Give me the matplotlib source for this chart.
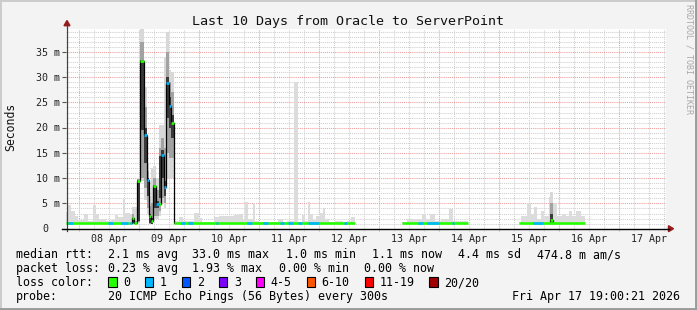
import matplotlib
matplotlib.use('Agg')
import matplotlib.pyplot as plt
from matplotlib.lines import Line2D
from matplotlib.patches import Polygon, Rectangle
import numpy as np

plt.rcParams['font.family'] = ['DejaVu Sans Mono']

# ---- data (time in hours since 07 Apr 19:00, rtt in ms) ----
title = 'Last 10 Days from Oracle to ServerPoint'
day_labels = ['08 Apr', '09 Apr', '10 Apr', '11 Apr', '12 Apr',
              '13 Apr', '14 Apr', '15 Apr', '16 Apr', '17 Apr']

# blocks where the median sits at its normal level
data_start = [0.0, 44.0, 134.4, 181.2]
data_end = [25.6, 115.6, 160.8, 207.6]
median_base = 1.1

# intervals with 1 lost ping (the rest is 0 loss)
loss1_start = [0.8, 16.8, 22.0, 46.0, 48.8, 60.0, 72.4, 78.8, 85.6, 88.8,
               92.8, 96.8, 111.2, 140.8, 144.4, 154.4, 186.8]
loss1_end = [2.8, 18.8, 24.8, 47.6, 50.8, 60.8, 74.4, 80.8, 87.2, 90.8,
             94.4, 101.2, 112.4, 142.8, 149.2, 155.2, 190.8]

# light smoke (max rtt) in the quiet periods
smoke1_edges = [0.0, 0.8, 2.0, 3.6, 4.8, 7.2, 8.8, 10.8, 12.0, 13.2, 16.0,
                18.0, 19.6, 20.8, 22.8, 23.6, 25.6]
smoke1_top = [3.3, 4.6, 3.6, 2.5, 1.8, 3.0, 1.6, 4.6, 3.0, 2.0, 1.5, 1.8,
              2.8, 2.4, 5.8, 3.2]
smoke2_edges = [44.0, 45.2, 46.8, 48.8, 51.2, 53.2, 54.4, 59.2, 61.2, 64.0,
                67.2, 69.2, 70.8, 71.6, 72.8, 74.8, 75.6, 77.2, 79.2, 84.8,
                86.8, 88.4, 91.2, 92.8, 94.4, 95.6, 96.8, 97.6, 98.8, 100.0,
                101.6, 102.8, 103.6, 105.2, 107.6, 110.8, 112.4, 114.0, 115.6]
smoke2_top = [1.5, 2.4, 1.5, 1.6, 3.2, 2.2, 1.4, 2.3, 2.5, 2.5,
              2.8, 3.0, 1.8, 5.3, 2.0, 5.0, 1.6, 1.4, 1.3, 2.0,
              1.3, 1.6, 29.0, 1.4, 2.8, 1.6, 5.2, 3.0, 1.8, 2.5,
              3.2, 4.0, 2.0, 1.3, 1.5, 1.3, 1.5, 2.4]
smoke3_edges = [134.4, 136.4, 140.4, 142.4, 144.0, 145.6, 147.6, 150.0,
                153.2, 154.8, 160.8]
smoke3_top = [1.3, 2.0, 2.0, 3.0, 2.0, 3.0, 1.5, 2.0, 3.9, 1.5]
smoke4_edges = [181.2, 182.0, 184.4, 186.0, 187.2, 188.4, 190.0, 191.2,
                193.2, 194.8, 196.4, 198.4, 200.0, 201.2, 202.4, 204.0,
                206.0, 207.6]
smoke4_top = [1.3, 2.5, 5.0, 3.0, 4.3, 2.0, 3.6, 2.5, 6.3, 5.0, 2.5, 3.0,
              2.5, 3.6, 2.5, 3.5, 2.5]

# outage on 08/09 Apr
spike_edges = [25.6, 26.4, 27.2, 28.4, 29.4, 31.2, 32.2, 33.2, 34.0, 34.8,
               36.0, 37.2, 38.0, 39.2, 40.0, 41.2, 42.0, 43.0, 44.0]
spike_med = [1.1, 2.2, 1.1, 9.4, 33.3, 18.6, 9.6, 2.6, 1.6, 8.4, 4.8, 4.8,
             14.5, 8.3, 28.8, 24.3, 21.0, 1.1]
spike_loss = [1, 0, 0, 0, 0, 1, 1, 0, 0, 0, 1, 0, 1, 1, 1, 1, 0, 0]
spike_light_lo = [1.0, 1.0, 1.0, 1.2, 9.5, 5.6, 3.0, 1.0, 1.0, 2.0, 2.0, 2.5,
                  5.0, 4.0, 10.0, 10.0, 10.0, 1.0]
spike_light_hi = [3.0, 4.2, 4.2, 10.0, 40.0, 28.0, 13.0, 6.5, 12.0, 12.5,
                  10.0, 20.6, 20.6, 34.0, 39.0, 31.5, 31.0, 1.5]
spike_mid_lo = [1.0, 1.0, 1.0, 1.3, 10.0, 8.0, 4.0, 1.0, 1.0, 2.5, 2.5, 3.5,
                6.0, 5.0, 15.0, 14.0, 14.0, 1.0]
spike_mid_hi = [1.0, 3.0, 1.5, 9.8, 37.0, 24.0, 11.5, 4.5, 5.0, 10.0, 7.6,
                16.0, 18.0, 16.0, 35.0, 29.0, 27.0, 1.0]
spike_dark_lo = [1.0, 1.1, 1.0, 1.5, 19.5, 13.0, 6.5, 1.2, 1.0, 4.0, 4.0,
                 6.0, 10.0, 6.5, 22.0, 20.0, 18.0, 1.0]
spike_dark_hi = [1.0, 2.2, 1.2, 9.6, 33.5, 20.0, 10.0, 3.0, 2.2, 8.6, 5.5,
                 14.3, 15.5, 9.5, 30.0, 26.0, 22.5, 1.0]

# small bump on 15 Apr
blip_edges = [193.2, 193.6, 194.8, 195.2]
blip_med = [1.1, 1.8, 1.1]
blip_loss = [0, 0, 0]
blip_light_lo = [1.0, 1.0, 1.0]
blip_light_hi = [6.3, 7.3, 5.0]
blip_mid_lo = [1.0, 1.2, 1.0]
blip_mid_hi = [1.0, 5.0, 1.0]
blip_dark_lo = [1.0, 1.2, 1.0]
blip_dark_hi = [1.0, 3.0, 1.0]

loss_labels = ['0', '1', '2', '3', '4-5', '6-10', '11-19', '20/20']
loss_colors = ['#26ff00', '#00b8ff', '#0059ff', '#7e00ff', '#ff00ff',
               '#ff5500', '#ff0000', '#a00000']

stats_rtt = ['2.1 ms avg', '33.0 ms max', '1.0 ms min', '1.1 ms now',
             '4.4 ms sd', '474.8 m am/s']
stats_loss = ['0.23 % avg', '1.93 % max', '0.00 % min', '0.00 % now']
probe_text = '20 ICMP Echo Pings (56 Bytes) every 300s'
stamp = 'Fri Apr 17 19:00:21 2026'

# ---- figure ----
W, H = 697, 310
BG = '#f3f3f3'


def fx(x):
    return x / W


def fy(y):
    return 1 - y / H


fig = plt.figure(figsize=(W / 100, H / 100), dpi=100, facecolor=BG)
ax = fig.add_axes([fx(66.2), fy(228.7), 600 / W, 200 / H])
ax.set_facecolor('white')
ax.set_xlim(0, 240)
ax.set_ylim(0, 39.6)
for s in ax.spines.values():
    s.set_visible(False)
ax.set_xticks([])
ax.set_yticks(range(0, 36, 5))
ax.tick_params(axis='y', length=3, width=0.8, color='#555555', labelleft=False)

# grid
dots = (0, (1, 1))
for h in np.arange(5, 240, 6):
    major = (h - 5) % 24 == 0
    ax.axvline(h, ymin=-0.012, ymax=1, clip_on=False, lw=0.75, ls=dots,
               color='#f09a9a' if major else '#cfcfcf', zorder=0.5)
for v in range(1, 40):
    major = v % 5 == 0
    ax.axhline(v, lw=0.75, ls=dots,
               color='#f09a9a' if major else '#cfcfcf', zorder=0.5)

# smoke in quiet periods
for e, t in [(smoke1_edges, smoke1_top), (smoke2_edges, smoke2_top),
             (smoke3_edges, smoke3_top), (smoke4_edges, smoke4_top)]:
    ax.stairs(t, e, baseline=1.0, fill=True, color='#dcdcdc', lw=0, zorder=1)

# baseline median with loss colours
ax.hlines([median_base] * len(data_start), data_start, data_end,
          color=loss_colors[0], lw=1.9, zorder=3)
ax.hlines([median_base] * len(loss1_start), loss1_start, loss1_end,
          color=loss_colors[1], lw=1.9, zorder=3.1)

# outage / bump smoke and stepped median
groups = [
    (spike_edges, spike_med, spike_loss, spike_light_lo, spike_light_hi,
     spike_mid_lo, spike_mid_hi, spike_dark_lo, spike_dark_hi),
    (blip_edges, blip_med, blip_loss, blip_light_lo, blip_light_hi,
     blip_mid_lo, blip_mid_hi, blip_dark_lo, blip_dark_hi),
]
for e, med, loss, llo, lhi, mlo, mhi, dlo, dhi in groups:
    ax.stairs(lhi, e, baseline=llo, fill=True, color='#d8d8d8', lw=0, zorder=1.1)
    ax.stairs(mhi, e, baseline=mlo, fill=True, color='#a2a2a2', lw=0, zorder=1.2)
    ax.stairs(dhi, e, baseline=dlo, fill=True, color='#3a3a3a', lw=0, zorder=1.3)
    ax.stairs(med, e, baseline=None, color='black', lw=0.9, zorder=2)
    for i in range(len(med)):
        ax.hlines(med[i], e[i], e[i + 1], color=loss_colors[loss[i]],
                  lw=1.9, zorder=3.2)

# axis labels
for i, lab in enumerate(day_labels):
    ax.annotate(lab, xy=(17 + 24 * i, 0), xycoords=('data', 'axes fraction'),
                xytext=(0, -13.3 * 0.72), textcoords='offset points',
                ha='center', va='baseline', fontsize=7.2, color='#222222')
for v in range(0, 36, 5):
    lab = '0' if v == 0 else f'{v} m'
    off = -18.2 if v == 0 else -6.2
    ax.annotate(lab, xy=(0, v), xycoords=('axes fraction', 'data'),
                xytext=(off * 0.72, -3.6 * 0.72), textcoords='offset points',
                ha='right', va='baseline', fontsize=7.2, color='#222222',
                annotation_clip=False)

# axes lines and arrows
arrow_c = '#9a1c1c'
fig.add_artist(Line2D([fx(67), fx(67)], [fy(231), fy(24)], color='#404040',
                      lw=0.9))
fig.add_artist(Line2D([fx(62), fx(669)], [fy(228.7), fy(228.7)],
                      color='black', lw=1.0))
fig.add_artist(Polygon([[fx(64), fy(25.7)], [fx(70), fy(25.7)],
                        [fx(67), fy(20.5)]], closed=True, color=arrow_c))
fig.add_artist(Polygon([[fx(668.5), fy(225.7)], [fx(668.5), fy(231.7)],
                        [fx(673.5), fy(228.7)]], closed=True, color=arrow_c))

# frame
fig.add_artist(Line2D([0, 0, 1], [0, 1, 1], transform=fig.transFigure,
                      color='#cbcbcb', lw=2.8))
fig.add_artist(Line2D([0, 1, 1], [0, 0, 1], transform=fig.transFigure,
                      color='#9b9b9b', lw=2.8))

# texts
fig.text(fx(348.3), fy(24.5), title, ha='center', va='baseline',
         fontsize=9.6, color='#111111')
fig.text(fx(11), fy(127), 'Seconds', rotation=90, ha='center', va='center',
         fontsize=8.3, color='#111111')
fig.text(fx(688.5), fy(59), 'RRDTOOL / TOBI OETIKER', rotation=270,
         ha='center', va='center', fontsize=6, color='#a8a8a8')

lfs = 8.35
cw = 6.96
fig.text(fx(16), fy(258), 'median rtt:', fontsize=lfs, va='baseline')
for txt, x in zip(stats_rtt, [107.5, 192, 286, 371.5, 458, 537]):
    fig.text(fx(x), fy(258), txt, fontsize=lfs, va='baseline')
fig.text(fx(16), fy(272), 'packet loss:', fontsize=lfs, va='baseline')
for txt, x in zip(stats_loss, [107.5, 192, 279, 364.4]):
    fig.text(fx(x), fy(272), txt, fontsize=lfs, va='baseline')
fig.text(fx(16), fy(286), 'loss color:', fontsize=lfs, va='baseline')
cursor = 108
for lab, col in zip(loss_labels, loss_colors):
    fig.add_artist(Rectangle((fx(cursor), fy(287)), 8.5 / W, 10.5 / H,
                             facecolor=col, edgecolor='black', lw=0.8,
                             transform=fig.transFigure))
    fig.text(fx(cursor + 15), fy(286), lab, fontsize=lfs, va='baseline')
    cursor = cursor + 15 + len(lab) * cw + 15
fig.text(fx(16), fy(300), 'probe:', fontsize=lfs, va='baseline')
fig.text(fx(107.5), fy(300), probe_text, fontsize=lfs, va='baseline')
fig.text(fx(680), fy(300), stamp, fontsize=lfs, va='baseline', ha='right')

fig.savefig('out.png', dpi=100, facecolor=BG)
